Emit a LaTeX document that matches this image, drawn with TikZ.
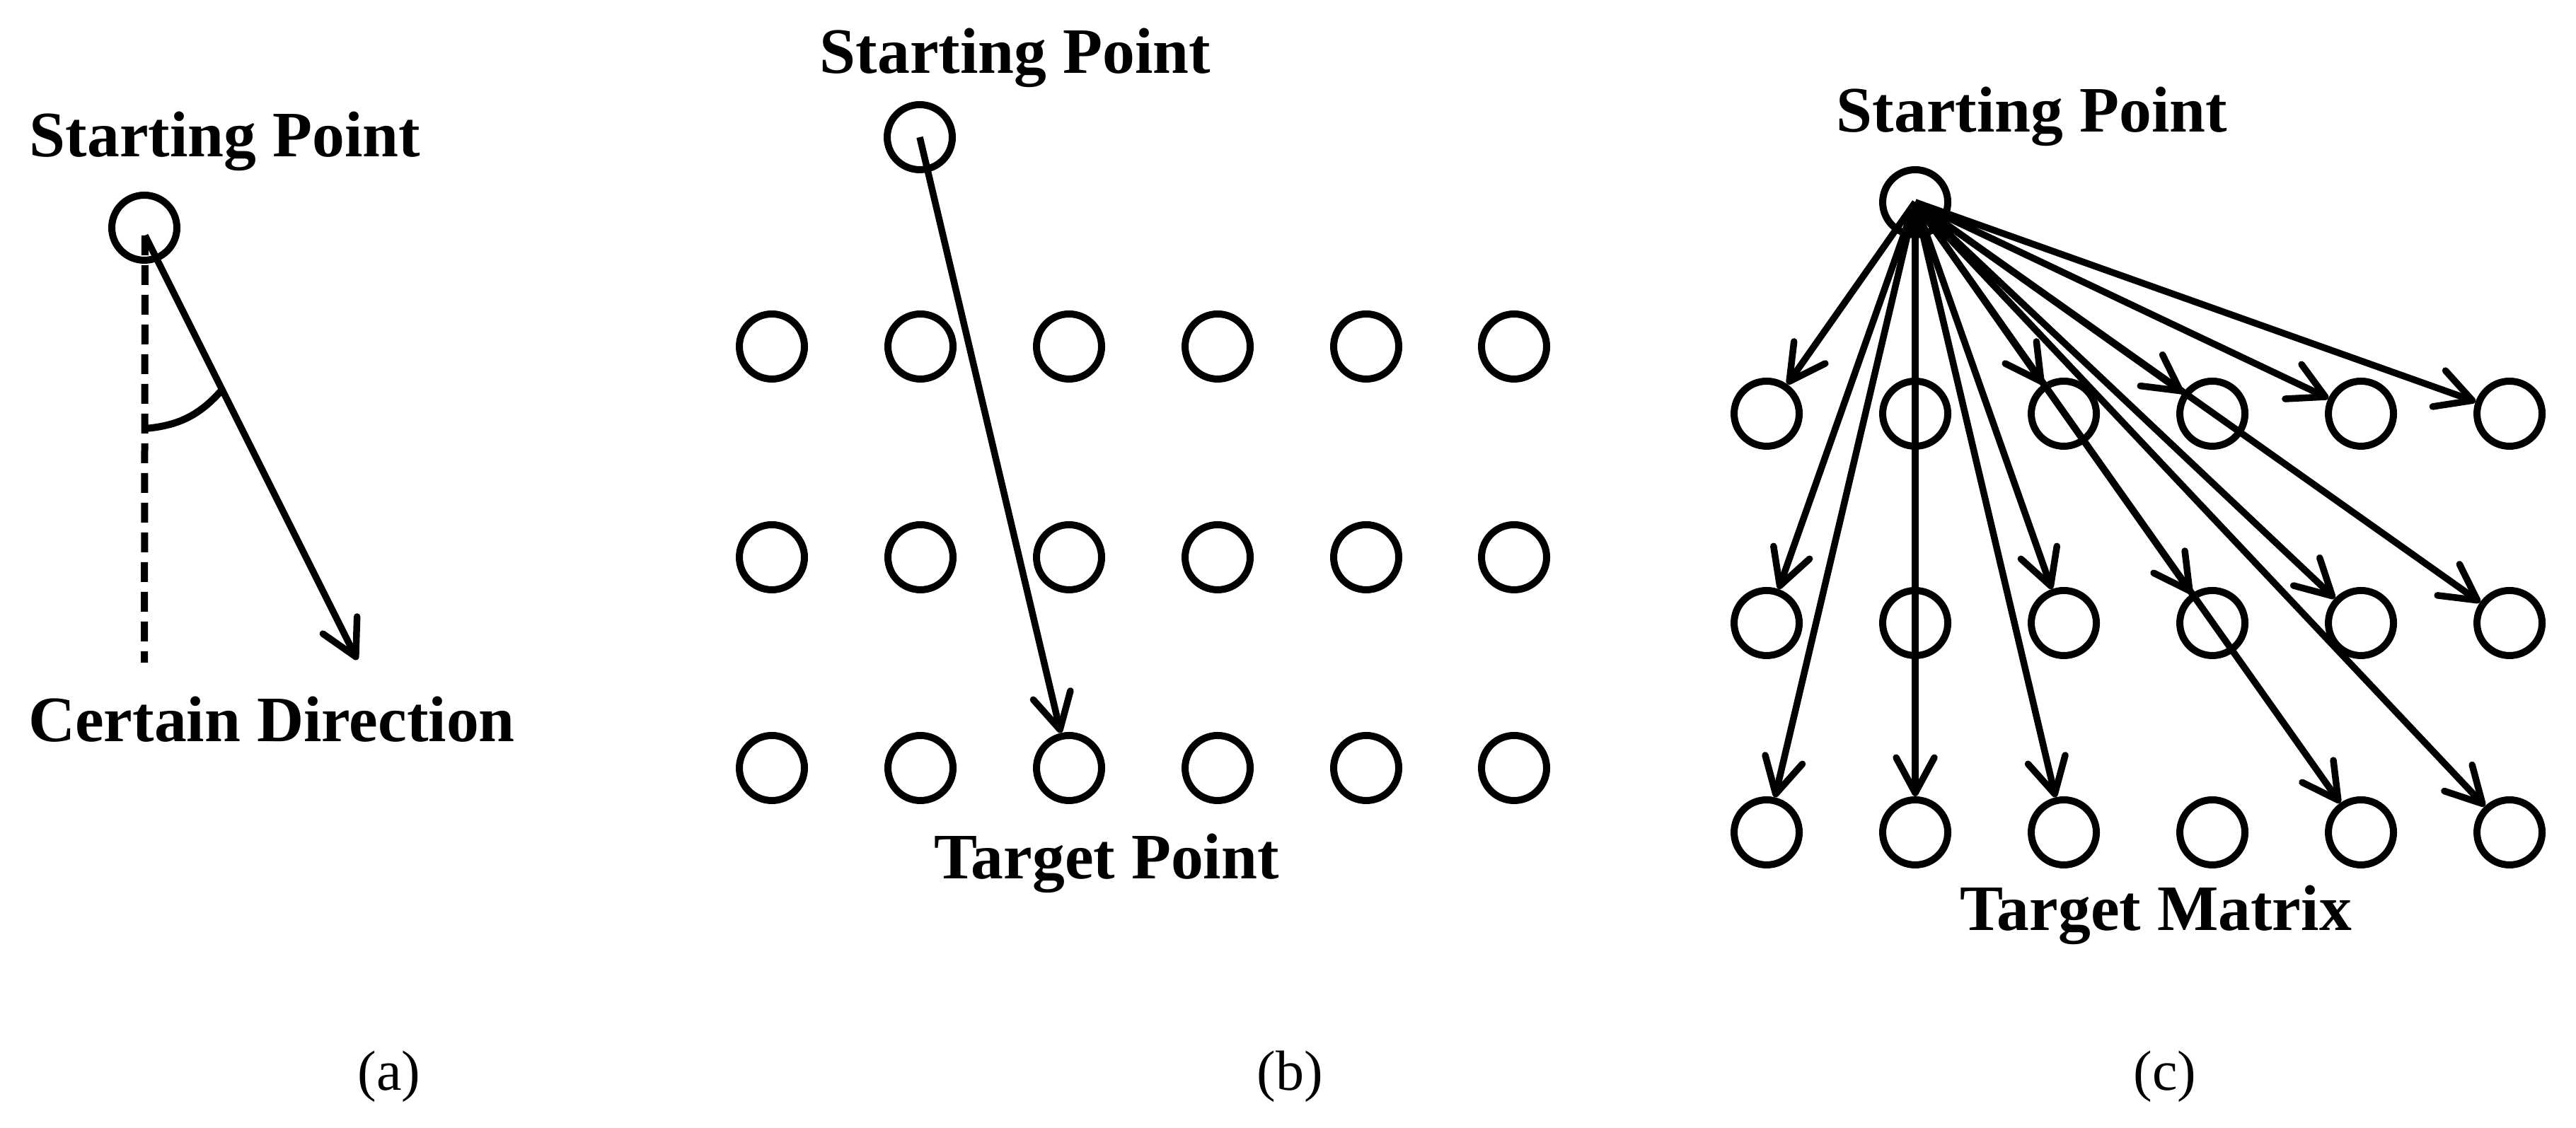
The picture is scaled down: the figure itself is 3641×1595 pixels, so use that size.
\documentclass[tikz,border=0pt]{standalone}
\usepackage{fontspec}
\setmainfont{Liberation Serif}
\usetikzlibrary{arrows.meta}
\begin{document}
\begin{tikzpicture}[x=0.1pt,y=0.1pt,
  pt/.style={circle,draw,line width=1pt,minimum size=9.2pt,inner sep=0pt},
  arr/.style={line width=0.95pt,-{Straight Barb[length=5pt,width=5.4pt,round]}},
  lbl/.style={anchor=base,inner sep=0pt,font=\fontsize{9.16pt}{11pt}\selectfont\bfseries},
  subcap/.style={anchor=base,inner sep=0pt,font=\fontsize{8pt}{10pt}\selectfont}]
\useasboundingbox (0,0) rectangle (3641,-1595);

% ---------- (a) ----------
\node[pt] (a0) at (204,-322) {};
\coordinate (as) at (205,-333);
\coordinate (aend) at (505,-933);
\coordinate (adash) at (204,-937);
\coordinate (arc1) at (205,-606);
\coordinate (arc2) at (314,-551);
\draw[line width=1pt,dash pattern=on 2.8pt off 1.4pt] (as) -- (adash);
\draw[arr] (as) -- (aend);
\draw[line width=1pt] (arc1) to[bend right=22] (arc2);
\node[lbl] (aS) at (318,-222) {Starting Point};
\node[lbl] (aC) at (384,-1049) {Certain Direction};

% ---------- (b) ----------
\node[pt] (b0) at (1300,-194) {};
\foreach \r/\y in {1/490,2/788,3/1086}
  \foreach \c/\x in {1/1091,2/1301,3/1511,4/1721,5/1931,6/2140}
    \node[pt] (b\r\c) at (\x,-\y) {};
\draw[arr] (b0.center) -- (b33);
\node[lbl] (bS) at (1435,-104) {Starting Point};
\node[lbl] (bT) at (1564,-1243) {Target Point};

% ---------- (c) ----------
\node[pt] (c0) at (2707,-286) {};
\foreach \r/\y in {1/585,2/881,3/1177}
  \foreach \c/\x in {1/2497,2/2707,3/2917,4/3127,5/3337,6/3547}
    \node[pt] (c\r\c) at (\x,-\y) {};
\foreach \t in {11,13,14,15,16,21,23,24,25,26,31,32,33,35,36}
  \draw[arr] (c0.center) -- (c\t);
\node[lbl] (cS) at (2872,-187) {Starting Point};
\node[lbl] (cT) at (3047,-1316) {Target Matrix};

% ---------- captions ----------
\node[subcap] (capa) at (550,-1542) {(a)};
\node[subcap] (capb) at (1823,-1542) {(b)};
\node[subcap] (capc) at (3060,-1542) {(c)};
\end{tikzpicture}
\end{document}
